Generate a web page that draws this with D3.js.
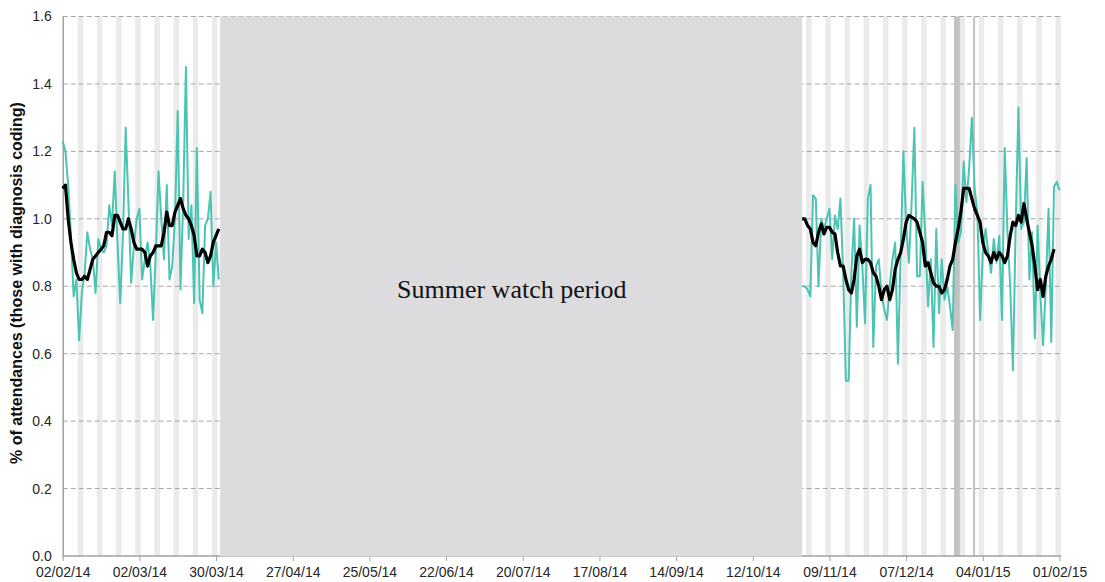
<!DOCTYPE html>
<html>
<head>
<meta charset="utf-8">
<script src="https://cdn.jsdelivr.net/npm/d3@7"></script>
<style>
  body { margin: 0; background: #fff; }
  svg { font-family: "Liberation Sans", Arial, sans-serif; }
</style>
</head>
<body>
<svg id="chart" width="1105" height="582"></svg>
<script>
// axis
const firstDay = '2014-02-02';
const lastDay = '2015-02-01';
const tickLabels = ['02/02/14', '02/03/14', '30/03/14', '27/04/14', '25/05/14', '22/06/14', '20/07/14',
  '17/08/14', '14/09/14', '12/10/14', '09/11/14', '07/12/14', '04/01/15', '01/02/15'];
const yTicks = [0, 0.2, 0.4, 0.6, 0.8, 1.0, 1.2, 1.4, 1.6];

// periods
const summerPeriod = ['2014-04-01', '2014-10-30'];
const bankHolidays = ['2014-12-25', '2014-12-26'];
const bankHolidayLines = ['2015-01-01'];

// daily % and 7 day average, early period (from 02/02/14)
const earlyStart = '2014-02-02';
const dailyEarly = [1.23, 1.20, 1.10, 0.95, 0.77, 0.82, 0.64, 0.78, 0.84, 0.96,
  0.91, 0.88, 0.78, 0.94, 0.91, 0.90, 0.92, 1.04, 0.98, 1.14,
  0.93, 0.75, 0.95, 1.27, 1.05, 0.81, 0.92, 1.00, 1.03, 0.82,
  0.88, 0.93, 0.86, 0.70, 0.90, 1.14, 1.00, 0.88, 1.10, 0.82,
  0.86, 1.00, 1.32, 0.79, 1.05, 1.45, 0.94, 1.04, 0.75, 1.21,
  0.76, 0.72, 0.98, 1.00, 1.08, 0.80, 0.93, 0.82];
const avgEarly = [1.09, 1.10, 1.00, 0.93, 0.88, 0.84, 0.82, 0.82, 0.83, 0.82,
  0.85, 0.88, 0.89, 0.90, 0.91, 0.92, 0.96, 0.96, 0.95, 1.01,
  1.01, 0.99, 0.97, 0.97, 1.00, 0.97, 0.93, 0.91, 0.91, 0.91,
  0.90, 0.86, 0.89, 0.90, 0.92, 0.92, 0.92, 0.96, 1.02, 0.98,
  0.98, 1.02, 1.04, 1.06, 1.03, 1.01, 1.00, 0.98, 0.95, 0.89,
  0.89, 0.91, 0.90, 0.87, 0.89, 0.93, 0.95, 0.97];

// winter period (from 30/10/14)
const winterStart = '2014-10-30';
const dailyWinter = [0.80, 0.80, 0.79, 0.77, 1.07, 1.06, 0.80, 1.00, 0.97, 1.00,
  1.03, 0.88, 1.01, 0.97, 1.06, 0.84, 0.52, 0.52, 0.84, 1.00,
  0.68, 0.98, 0.86, 0.69, 1.06, 1.10, 0.62, 0.86, 0.88, 0.78,
  0.73, 0.70, 0.80, 0.88, 0.93, 0.57, 0.90, 1.20, 0.98, 0.87,
  1.05, 1.27, 0.83, 0.83, 1.11, 0.95, 0.74, 0.88, 0.62, 0.97,
  0.72, 0.88, 0.76, 0.80, 0.74, 0.67, 1.10, 0.93, 0.96, 1.17,
  1.05, 1.15, 1.30, 1.09, 1.02, 0.70, 0.90, 0.97, 0.90, 0.84,
  0.94, 0.87, 0.95, 0.70, 1.21, 0.96, 0.80, 0.55, 0.98, 1.33,
  0.97, 0.99, 1.18, 0.82, 0.96, 0.645, 0.98, 0.78, 0.625, 0.80,
  1.03, 0.635, 1.095, 1.11, 1.085];
const avgWinter = [1.00, 1.00, 0.98, 0.97, 0.93, 0.92, 0.96, 0.985, 0.955, 0.975,
  0.975, 0.96, 0.955, 0.90, 0.86, 0.86, 0.82, 0.79, 0.78, 0.82,
  0.89, 0.91, 0.87, 0.88, 0.88, 0.87, 0.84, 0.83, 0.80, 0.76,
  0.79, 0.80, 0.76, 0.79, 0.85, 0.88, 0.90, 0.94, 0.99, 1.01,
  1.005, 1.00, 0.99, 0.96, 0.93, 0.86, 0.87, 0.84, 0.81, 0.80,
  0.80, 0.78, 0.79, 0.82, 0.86, 0.88, 0.93, 0.97, 1.02, 1.09,
  1.09, 1.09, 1.06, 1.03, 1.01, 0.99, 0.93, 0.90, 0.89, 0.87,
  0.90, 0.88, 0.90, 0.89, 0.87, 0.89, 0.95, 0.99, 0.98, 1.01,
  0.99, 1.045, 1.00, 0.96, 0.92, 0.86, 0.79, 0.82, 0.77, 0.83,
  0.86, 0.88, 0.91];

const margin = { top: 16.5, right: 45.5, bottom: 26, left: 62.7 };
const width = 1105;
const height = 582;

const parseIso = d3.utcParse('%Y-%m-%d');
const parseTick = d3.utcParse('%d/%m/%y');
const sans = '"Liberation Sans", Arial, sans-serif';

const svg = d3.select('#chart');

const x = d3.scaleUtc()
  .domain([parseIso(firstDay), parseIso(lastDay)])
  .range([margin.left, width - margin.right]);
const y = d3.scaleLinear()
  .domain([0, 1.6])
  .range([height - margin.bottom, margin.top]);

const dayWidth = x(d3.utcDay.offset(parseIso(firstDay), 1)) - x(parseIso(firstDay));

function toSeries(start, values) {
  const s = parseIso(start);
  return values.map((v, i) => ({ date: d3.utcDay.offset(s, i), value: v }));
}

// weekend stripes (Sat + Sun)
const saturdays = d3.utcSaturdays(parseIso(firstDay), d3.utcDay.offset(parseIso(lastDay), 1));
svg.append('g')
  .attr('class', 'weekends')
  .selectAll('rect')
  .data(saturdays)
  .join('rect')
  .attr('x', d => x(d) - dayWidth / 2)
  .attr('y', y(1.6))
  .attr('width', dayWidth * 2)
  .attr('height', y(0) - y(1.6))
  .attr('fill', '#ebebeb');

// gridlines
svg.append('g')
  .attr('class', 'grid')
  .selectAll('line')
  .data(yTicks.filter(d => d > 0))
  .join('line')
  .attr('x1', x.range()[0])
  .attr('x2', x.range()[1] + 1)
  .attr('y1', d => y(d))
  .attr('y2', d => y(d))
  .attr('stroke', '#a6a6a6')
  .attr('stroke-width', 1)
  .attr('stroke-dasharray', '5,3');

// bank holidays
svg.append('g')
  .attr('class', 'holidays')
  .selectAll('rect')
  .data(bankHolidays.map(parseIso))
  .join('rect')
  .attr('x', d => x(d) - dayWidth / 2)
  .attr('y', y(1.6))
  .attr('width', dayWidth + 0.3)
  .attr('height', y(0) - y(1.6))
  .attr('fill', '#c2c2c2');
svg.append('g')
  .attr('class', 'holiday-lines')
  .selectAll('line')
  .data(bankHolidayLines.map(parseIso))
  .join('line')
  .attr('x1', d => x(d) - 0.5)
  .attr('x2', d => x(d) - 0.5)
  .attr('y1', y(1.6))
  .attr('y2', y(0))
  .attr('stroke', '#c2c2c2')
  .attr('stroke-width', 2);

// x axis
const xAxis = d3.axisBottom(x)
  .tickValues(tickLabels.map(parseTick))
  .tickFormat(d3.utcFormat('%d/%m/%y'))
  .tickSize(5)
  .tickSizeOuter(0);
const gx = svg.append('g')
  .attr('transform', `translate(0,${y(0)})`)
  .call(xAxis);
gx.select('.domain').attr('stroke', '#a0a0a0').attr('stroke-width', 1.5)
  .attr('d', `M${x.range()[0]},0H${x.range()[1] + 1.5}`);
gx.selectAll('.tick line').attr('stroke', '#a0a0a0');
gx.selectAll('.tick text')
  .style('font-size', '14px')
  .style('font-family', sans)
  .attr('fill', '#262626')
  .attr('dy', '0.95em');

// summer watch period
const summer = svg.append('g').attr('class', 'summer');
summer.append('rect')
  .attr('x', x(parseIso(summerPeriod[0])) - dayWidth / 2)
  .attr('y', y(1.6))
  .attr('width', x(parseIso(summerPeriod[1])) - x(parseIso(summerPeriod[0])) + dayWidth / 2)
  .attr('height', y(0) - y(1.6) + 0.5)
  .attr('fill', '#dcdcde');
summer.append('text')
  .attr('x', (x(parseIso(summerPeriod[0])) + x(parseIso(summerPeriod[1]))) / 2)
  .attr('y', 298)
  .attr('text-anchor', 'middle')
  .style('font-family', '"Liberation Serif", "Times New Roman", serif')
  .style('font-size', '26px')
  .attr('fill', '#111')
  .text('Summer watch period');

// y axis
const yAxis = d3.axisLeft(y)
  .tickValues(yTicks)
  .tickFormat(d3.format('.1f'))
  .tickSize(0)
  .tickPadding(11);
const gy = svg.append('g')
  .attr('transform', `translate(${margin.left},0)`)
  .call(yAxis);
gy.select('.domain').attr('stroke', '#a0a0a0').attr('stroke-width', 1.5);
gy.selectAll('.tick text')
  .style('font-size', '14px')
  .style('font-family', sans)
  .attr('fill', '#262626');

const yTitle = svg.append('text')
  .attr('transform', `translate(22,283) rotate(-90)`)
  .attr('text-anchor', 'middle')
  .style('font-size', '14px')
  .style('font-weight', 'bold')
  .attr('fill', '#111')
  .text('% of attendances (those with diagnosis coding)');
// size the title so it spans about the same height as the original
const titleLen = yTitle.node().getComputedTextLength();
yTitle.style('font-size', `${Math.min(16, 14 * 362 / titleLen)}px`);

// lines
const line = d3.line()
  .x(d => x(d.date))
  .y(d => y(d.value));

const dailySeries = [toSeries(earlyStart, dailyEarly), toSeries(winterStart, dailyWinter)];
const avgSeries = [toSeries(earlyStart, avgEarly), toSeries(winterStart, avgWinter)];

svg.append('g')
  .attr('class', 'daily')
  .selectAll('path')
  .data(dailySeries)
  .join('path')
  .attr('d', line)
  .attr('fill', 'none')
  .attr('stroke', '#4cc4b4')
  .attr('stroke-width', 2)
  .attr('stroke-linejoin', 'round');

svg.append('g')
  .attr('class', 'average')
  .selectAll('path')
  .data(avgSeries)
  .join('path')
  .attr('d', line)
  .attr('fill', 'none')
  .attr('stroke', '#000')
  .attr('stroke-width', 3.2)
  .attr('stroke-linejoin', 'round');
</script>
</body>
</html>
